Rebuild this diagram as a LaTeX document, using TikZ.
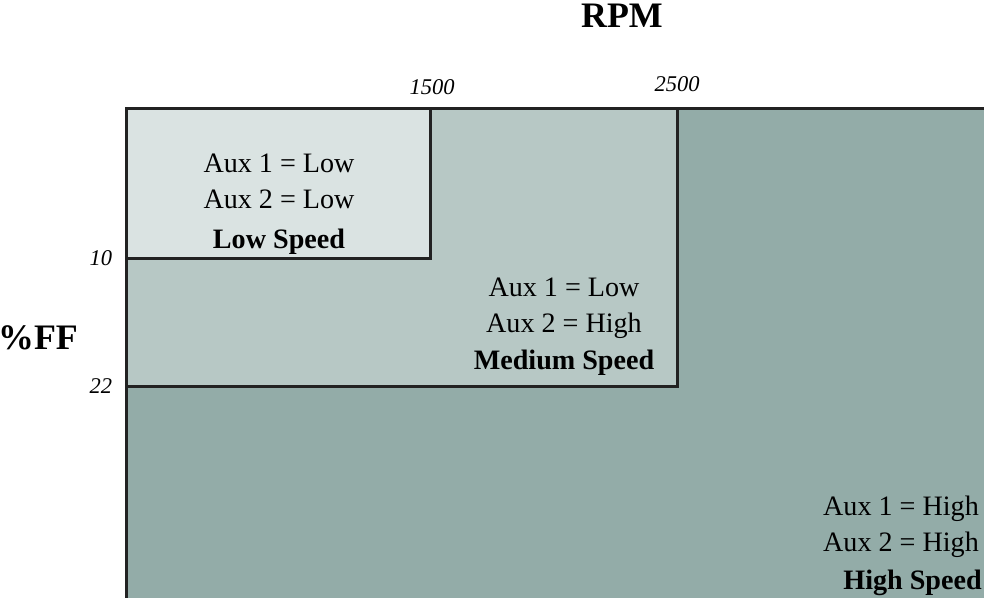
\documentclass[tikz,border=0pt]{standalone}
\usepackage{fontspec}
\setmainfont{Liberation Serif}
\usetikzlibrary{positioning}
\definecolor{lowfill}{HTML}{DAE3E2}
\definecolor{medfill}{HTML}{B7C8C5}
\definecolor{highfill}{HTML}{93ACA8}
\definecolor{edge}{HTML}{222222}
\tikzset{every node/.style={font=\fontsize{20}{25.5}\selectfont},
  region/.style={draw=edge,line width=0.75mm},
  tick/.style={font=\fontsize{16}{18}\selectfont\itshape},
  axis/.style={font=\fontsize{25.5}{30}\selectfont\bfseries},
  zone/.style={align=center,inner sep=0pt}}

\begin{document}
\begin{tikzpicture}[x=0.25mm,y=-0.25mm]
    \useasboundingbox (0,0) rectangle (984,598);
    \begin{scope}
      \clip (0,0) rectangle (984,598);
      \filldraw[region,fill=highfill] (126,108) rectangle (1000,620);
      \filldraw[region,fill=medfill] (126,108) rectangle (677,386);
      \filldraw[region,fill=lowfill] (126,108) rectangle (430,258);
    \end{scope}
    % axis titles and break points
    \node[axis] (rpm) at (622,16) {RPM};
    \node[axis] (ff) at (38,338) {\%FF};
    \node[tick] (r1) at (432,87) {1500};
    \node[tick] (r2) at (677,84) {2500};
    \node[tick,anchor=east] (f1) at (117,258) {10};
    \node[tick,anchor=east] (f2) at (117,386) {22};
    % speed zones
    \node[zone] (low) at (279,204) {Aux 1 = Low\\Aux 2 = Low\\[3pt]\textbf{Low Speed}};
    \node[zone] (med) at (564,327) {Aux 1 = Low\\Aux 2 = High\\[1pt]\textbf{Medium Speed}};
    \node[zone] (high) at (901,527) {Aux 1 = High\\Aux 2 = High};
    \node[zone,anchor=east] (highname) at (982,583) {\textbf{High Speed}};
\end{tikzpicture}
\end{document}
